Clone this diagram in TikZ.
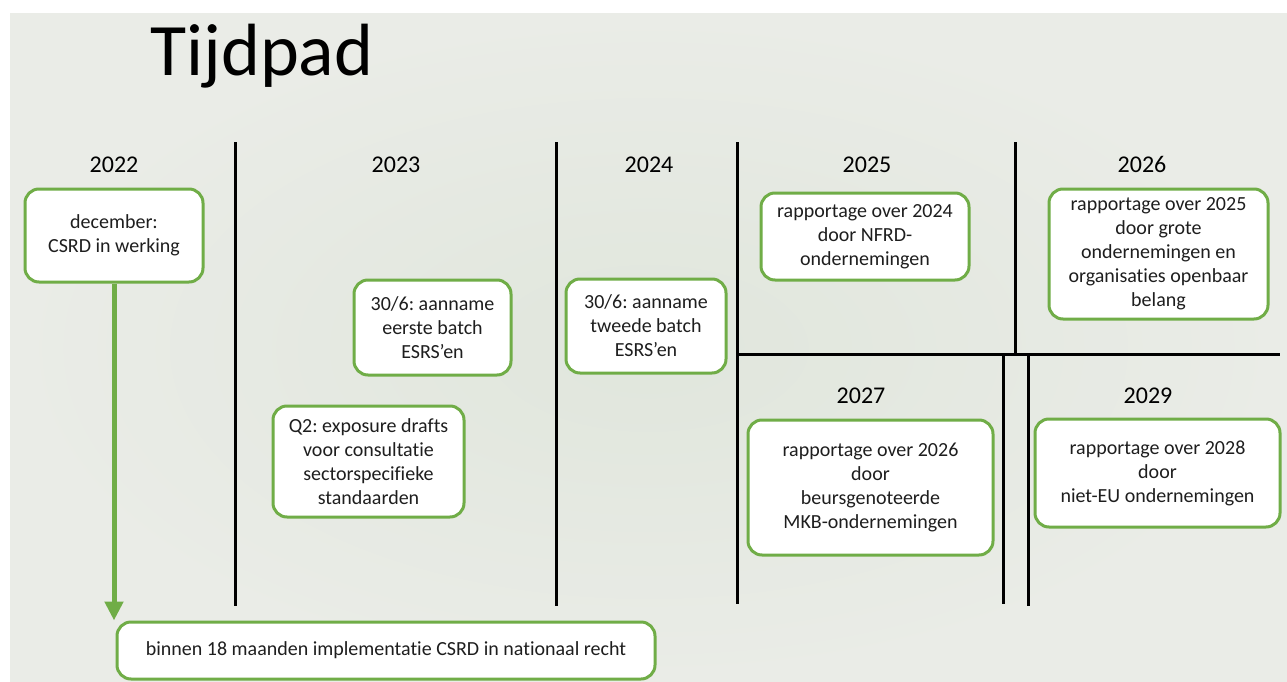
\documentclass[tikz,border=0pt]{standalone}
\usepackage{fontspec}
\setmainfont{Carlito}[Ligatures=NoCommon]
\usetikzlibrary{arrows.meta}
\definecolor{slidebg}{RGB}{224,230,220}
\definecolor{slideedge}{RGB}{234,236,231}
\definecolor{accentgreen}{RGB}{112,173,71}
\definecolor{textgray}{RGB}{30,30,30}
\frenchspacing

\begin{document}
\begin{tikzpicture}
[
x=1pt, y=-1pt,
event/.style={rectangle, rounded corners=14pt, draw=accentgreen, line width=3pt, fill=white, inner sep=0pt, align=center, text=textgray, font=\fontsize{20}{24}\selectfont},
year/.style={anchor=base, font=\fontsize{24}{28}\selectfont},
divider/.style={line width=3pt, black},
]
\useasboundingbox (0,0) rectangle (1287,682);
\fill [white] (0,0) rectangle (1287,682);
\shade [inner color=slidebg, outer color=slideedge] (10,14) rectangle (1287,682);

\node (title) [anchor=base west, font=\fontsize{74}{80}\selectfont] at (147,76) {Tijdpad};

% year columns
\draw [divider] (235,142) -- (235,606);
\draw [divider] (556,142) -- (556,606);
\draw [divider] (737,142) -- (737,604);
\draw [divider] (1015,142) -- (1015,354);
\draw [divider] (737,354) -- (1280,354);
\draw [divider] (1003,354) -- (1003,604);
\draw [divider] (1028,354) -- (1028,606);

\node (y22) [year] at (114,172) {2022};
\node (y23) [year] at (396,172) {2023};
\node (y24) [year] at (649,172) {2024};
\node (y25) [year] at (867,172) {2025};
\node (y26) [year] at (1142,172) {2026};
\node (y27) [year] at (861,403) {2027};
\node (y29) [year] at (1148,403) {2029};

% events
\node (dec)   [event, minimum width=178pt, minimum height=93pt] at (114,235.5) {december:\\CSRD in werking};
\node (esrs1) [event, minimum width=157pt, minimum height=95pt] at (432.5,327.5) {30/6: aanname\\eerste batch\\ESRS’en};
\node (q2)    [event, minimum width=191pt, minimum height=111pt] at (368.5,461.5) {Q2: exposure drafts\\voor consultatie\\sectorspecifieke\\standaarden};
\node (esrs2) [event, minimum width=160pt, minimum height=94pt] at (646,326) {30/6: aanname\\tweede batch\\ESRS’en};
\node (r25)   [event, minimum width=208pt, minimum height=87pt] at (865,236.5) {rapportage over 2024\\door NFRD-\\ondernemingen};
\node (r26)   [event, minimum width=219pt, minimum height=130pt] at (1158.5,254) {rapportage over 2025\\door grote\\ondernemingen en\\organisaties openbaar\\belang};
\node (r27)   [event, minimum width=245pt, minimum height=135pt] at (870.5,487.5) {rapportage over 2026\\door\\beursgenoteerde\\MKB-ondernemingen};
\node (r29)   [event, minimum width=245pt, minimum height=108pt] at (1157.5,473) {rapportage over 2028\\door\\niet-EU ondernemingen};
\node (impl)  [event, minimum width=538pt, minimum height=57pt] at (386,650.5) {binnen 18 maanden implementatie CSRD in nationaal recht};

\draw [accentgreen, line width=5pt, -{Triangle[width=18pt,length=19pt]}] (dec.south) -- (dec.south |- impl.north);
\end{tikzpicture}
\end{document}
